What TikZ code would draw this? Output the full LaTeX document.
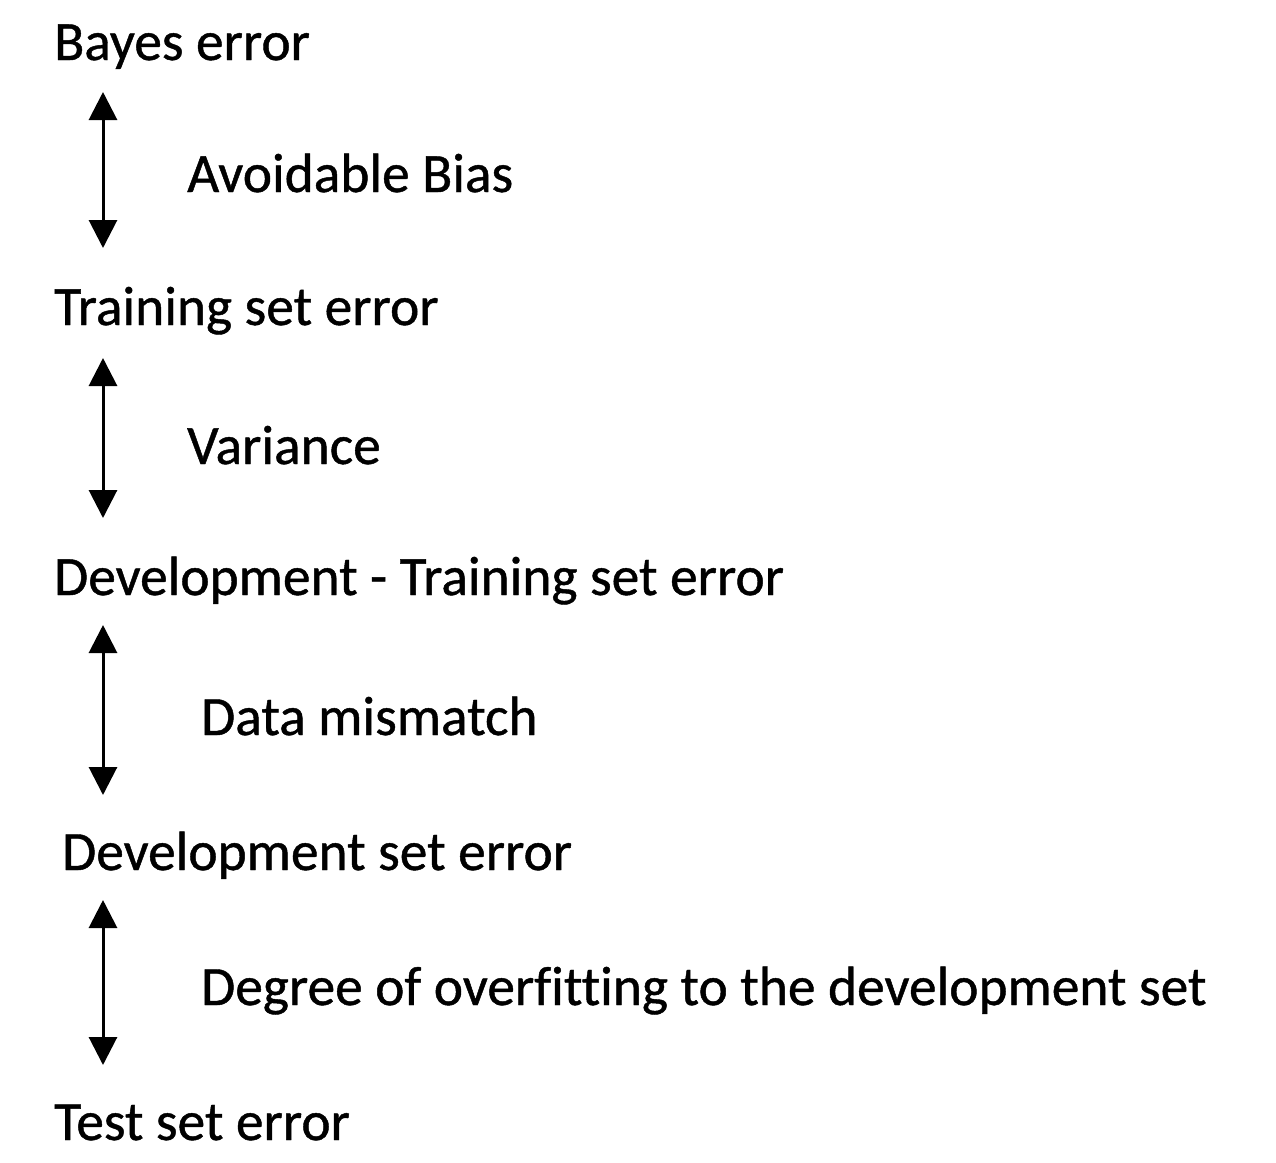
\documentclass[tikz,border=0pt]{standalone}
\usepackage{fontspec}
\setmainfont[Ligatures=NoCommon,FakeBold=0.8]{Carlito}
\usetikzlibrary{arrows.meta}
\tikzset{
  lbl/.style={anchor=base west, inner sep=0pt, font=\fontsize{55.4}{62}\selectfont},
  dbl/.style={line width=3pt, {Triangle[length=28pt,width=28pt]}-{Triangle[length=28pt,width=28pt]}}
}
\begin{document}
\begin{tikzpicture}[x=1pt,y=-1pt]
\useasboundingbox[fill=white] (0,0) rectangle (1276,1162);
\node[lbl] (bayes) at (54,60) {Bayes error};
\node[lbl] (avb) at (187,192) {Avoidable Bias};
\node[lbl] (train) at (54,325) {Training set error};
\node[lbl] (var) at (187,464) {Variance};
\node[lbl] (devtrain) at (54,595) {Development - Training set error};
\node[lbl] (mis) at (201,735) {Data mismatch};
\node[lbl] (dev) at (62,870) {Development set error};
\node[lbl] (over) at (201,1005) {Degree of overfitting to the development set};
\node[lbl] (test) at (54,1140) {Test set error};
\coordinate (a1) at (103,92); \coordinate (b1) at (103,248);
\coordinate (a2) at (103,358); \coordinate (b2) at (103,518);
\coordinate (a3) at (103,625); \coordinate (b3) at (103,795);
\coordinate (a4) at (103,900); \coordinate (b4) at (103,1065);
\draw[dbl] (a1) -- (b1);
\draw[dbl] (a2) -- (b2);
\draw[dbl] (a3) -- (b3);
\draw[dbl] (a4) -- (b4);
\end{tikzpicture}
\end{document}
